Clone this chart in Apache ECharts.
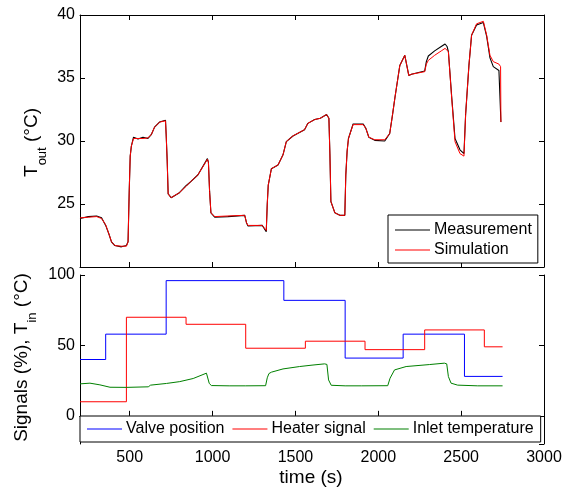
<!DOCTYPE html>
<html>
<head>
<meta charset="utf-8">
<script src="https://cdn.jsdelivr.net/npm/echarts@6/dist/echarts.min.js"></script>
<style>
  html, body { margin: 0; padding: 0; background: #fff; }
  #chart { width: 569px; height: 488px; }
</style>
</head>
<body>
<div id="chart"></div>
<script>
// Outlet temperature: time (s), simulated and measured values (°C)
const toutTime = [200, 250, 300, 330, 355, 375, 390, 410, 450, 480, 490, 497, 503, 510, 523, 550, 580, 610, 630, 650, 680, 716, 720, 726, 732, 750, 800, 840, 870, 911, 969, 975, 982, 990, 1013, 1093, 1194, 1205, 1214, 1300, 1324, 1330, 1336, 1355, 1395, 1425, 1445, 1485, 1555, 1575, 1616, 1650, 1688, 1702, 1708, 1714, 1738, 1768, 1798, 1804, 1812, 1820, 1848, 1909, 1925, 1943, 1979, 2039, 2069, 2085, 2100, 2130, 2160, 2172, 2184, 2200, 2280, 2290, 2302, 2340, 2380, 2403, 2415, 2423, 2443, 2463, 2493, 2517, 2527, 2547, 2563, 2593, 2634, 2654, 2674, 2694, 2728, 2738, 2740];
const toutSimulation = [23.9, 23.95, 24.0, 23.85, 23.35, 22.6, 22.0, 21.7, 21.65, 21.65, 22.0, 26.0, 28.8, 29.6, 30.2, 30.2, 30.2, 30.25, 30.5, 31.1, 31.5, 31.6, 30.5, 28.5, 25.8, 25.5, 25.9, 26.4, 26.8, 27.3, 28.55, 28.3, 26.0, 24.3, 24.0, 24.05, 24.1, 23.5, 23.3, 23.3, 22.9, 25.0, 26.5, 27.8, 28.1, 28.9, 29.95, 30.4, 30.9, 31.4, 31.7, 31.8, 32.1, 31.8, 29.0, 25.2, 24.3, 24.1, 24.1, 27.3, 29.2, 30.2, 31.3, 31.3, 31.0, 30.3, 30.1, 30.1, 30.6, 32.0, 33.4, 36.0, 36.8, 36.0, 35.2, 35.3, 35.5, 36.1, 36.4, 36.8, 37.15, 37.35, 37.25, 37.1, 33.4, 29.95, 29.0, 28.8, 32.1, 36.0, 38.4, 39.3, 39.5, 38.4, 36.8, 36.3, 36.1, 35.9, 31.5];
const toutMeasurement = [23.85, 24.0, 24.05, 23.9, 23.3, 22.6, 22.0, 21.7, 21.6, 21.7, 22.0, 26.0, 28.8, 29.6, 30.3, 30.15, 30.3, 30.2, 30.5, 31.1, 31.5, 31.65, 30.5, 28.5, 25.8, 25.5, 25.9, 26.45, 26.8, 27.3, 28.6, 28.3, 26.0, 24.3, 23.95, 24.0, 24.1, 23.5, 23.25, 23.3, 22.8, 25.0, 26.5, 27.8, 28.1, 28.9, 29.95, 30.4, 30.9, 31.4, 31.7, 31.8, 32.1, 31.8, 29.0, 25.2, 24.3, 24.1, 24.1, 27.3, 29.2, 30.2, 31.35, 31.35, 31.0, 30.3, 30.05, 30.0, 30.6, 32.0, 33.4, 36.0, 36.8, 36.0, 35.2, 35.3, 35.55, 36.3, 36.75, 37.15, 37.5, 37.7, 37.5, 37.1, 33.5, 30.2, 29.3, 29.0, 32.1, 36.0, 38.4, 39.2, 39.4, 38.3, 36.6, 35.9, 35.6, 35.5, 31.5];

// Input signals: change times (s) and held levels (%)
const valveTime = [200, 355, 720, 1430, 1800, 2150, 2520, 2750];
const valvePosition = [40, 58, 96, 82, 41, 58, 28, 28];
const heaterTime = [200, 480, 840, 1200, 1560, 1920, 2280, 2640, 2750];
const heaterSignal = [10, 70, 65, 48, 53, 47, 61, 49, 49];

// Inlet temperature (°C)
const inletTime = [200, 260, 320, 381, 481, 612, 626, 722, 802, 883, 963, 970, 980, 993, 1100, 1200, 1320, 1330, 1340, 1355, 1425, 1525, 1600, 1676, 1690, 1700, 1716, 1800, 1900, 2057, 2071, 2098, 2168, 2308, 2399, 2413, 2423, 2439, 2479, 2600, 2750];
const inletTemp = [22.7, 23.2, 22.0, 20.3, 20.2, 20.6, 21.8, 23.0, 24.3, 26.5, 30.3, 29.5, 23.0, 21.5, 21.3, 21.3, 21.4, 27.0, 30.0, 31.0, 33.3, 35.0, 36.0, 36.9, 36.5, 25.5, 21.7, 21.3, 21.3, 21.4, 26.7, 32.6, 35.0, 36.4, 37.4, 36.9, 27.9, 23.2, 21.8, 21.3, 21.3];

const FONT = 'Liberation Sans, Arial, Helvetica, sans-serif';
const pairs = (xs, ys) => xs.map((x, i) => [x, ys[i]]);
const plain = (v) => String(v);

const chart = echarts.init(document.getElementById('chart'), null, { renderer: 'canvas' });

const axisLine = { show: true, lineStyle: { color: '#000', width: 1 } };
const innerTick = { show: true, inside: true, length: 5, lineStyle: { color: '#000', width: 1 } };
const tickLabel = { color: '#000', fontSize: 16, fontFamily: FONT, formatter: plain };

function xAxisFor(grid, pos, labels) {
  return {
    type: 'value', gridIndex: grid, position: pos, min: 200, max: 3000,
    axisLine: axisLine, axisTick: innerTick, splitLine: { show: false },
    axisLabel: labels ? Object.assign({ margin: 6, showMinLabel: false }, tickLabel) : { show: false }
  };
}

const titleRich = {
  m: { fontSize: 19, fontFamily: FONT, fill: '#000', lineHeight: 26, verticalAlign: 'top' },
  s: { fontSize: 13, fontFamily: FONT, fill: '#000', lineHeight: 6, verticalAlign: 'bottom' }
};

chart.setOption({
  animation: false,
  backgroundColor: '#fff',
  grid: [
    { left: 80, top: 15, width: 464, height: 252 },
    { left: 80, top: 275, width: 464, height: 169 }
  ],
  xAxis: [
    xAxisFor(0, 'bottom', false),
    xAxisFor(0, 'top', false),
    xAxisFor(1, 'bottom', true),
    xAxisFor(1, 'top', false)
  ],
  yAxis: [
    { type: 'value', gridIndex: 0, position: 'left', min: 20, max: 40, interval: 5,
      axisLine: axisLine, axisTick: innerTick, splitLine: { show: false },
      axisLabel: Object.assign({ margin: 5, showMinLabel: false }, tickLabel) },
    { type: 'value', gridIndex: 0, position: 'right', min: 20, max: 40, interval: 5,
      axisLine: axisLine, axisTick: innerTick, splitLine: { show: false }, axisLabel: { show: false } },
    { type: 'value', gridIndex: 1, position: 'left', min: -20, max: 100, splitNumber: 2,
      axisLine: axisLine, axisTick: innerTick, splitLine: { show: false },
      axisLabel: Object.assign({ margin: 5, showMinLabel: false }, tickLabel) },
    { type: 'value', gridIndex: 1, position: 'right', min: -20, max: 100, splitNumber: 2,
      axisLine: axisLine, axisTick: innerTick, splitLine: { show: false }, axisLabel: { show: false } }
  ],
  legend: [
    {
      data: ['Measurement', 'Simulation'],
      orient: 'vertical', left: 388, top: 215,
      icon: 'rect', itemWidth: 35, itemHeight: 1, itemGap: 4,
      padding: [7, 6, 5, 7],
      backgroundColor: '#fff', borderColor: '#000', borderWidth: 1, borderRadius: 0,
      selectedMode: false,
      textStyle: { color: '#000', fontSize: 16, fontFamily: FONT, lineHeight: 16, padding: [0, 0, 0, -1] }
    },
    {
      data: ['Valve position', 'Heater signal', 'Inlet temperature'],
      orient: 'horizontal', left: 80, top: 416,
      icon: 'rect', itemWidth: 35, itemHeight: 1, itemGap: 8,
      padding: [5, 7, 5, 7],
      backgroundColor: '#fff', borderColor: '#000', borderWidth: 1, borderRadius: 0,
      selectedMode: false,
      textStyle: { color: '#000', fontSize: 16, fontFamily: FONT, lineHeight: 16, padding: [0, 0, 0, -1] }
    }
  ],
  graphic: [
    { type: 'text', x: 35.7, y: 142.5, rotation: Math.PI / 2, silent: true,
      style: { text: '{m|T}{s|out}{m| (°C)}', rich: titleRich, align: 'center', verticalAlign: 'middle' } },
    { type: 'text', x: 25.7, y: 357.5, rotation: Math.PI / 2, silent: true,
      style: { text: '{m|Signals (%), T}{s|in}{m| (°C)}', rich: titleRich, align: 'center', verticalAlign: 'middle' } },
    { type: 'text', x: 311, y: 478, silent: true,
      style: { text: 'time (s)', fontSize: 19, fontFamily: FONT, fill: '#000', align: 'center', verticalAlign: 'middle' } }
  ],
  series: [
    { name: 'Measurement', type: 'line', xAxisIndex: 0, yAxisIndex: 0,
      data: pairs(toutTime, toutMeasurement), showSymbol: false, symbol: 'none', silent: true,
      color: '#000', lineStyle: { color: '#000', width: 1.1 }, z: 2 },
    { name: 'Simulation', type: 'line', xAxisIndex: 0, yAxisIndex: 0,
      data: pairs(toutTime, toutSimulation), showSymbol: false, symbol: 'none', silent: true,
      color: '#ff0000', lineStyle: { color: '#ff0000', width: 1 }, z: 3 },
    { name: 'Valve position', type: 'line', step: 'end', xAxisIndex: 2, yAxisIndex: 2,
      data: pairs(valveTime, valvePosition), showSymbol: false, symbol: 'none', silent: true,
      color: '#0000ff', lineStyle: { color: '#0000ff', width: 1 } },
    { name: 'Heater signal', type: 'line', step: 'end', xAxisIndex: 2, yAxisIndex: 2,
      data: pairs(heaterTime, heaterSignal), showSymbol: false, symbol: 'none', silent: true,
      color: '#ff0000', lineStyle: { color: '#ff0000', width: 1 } },
    { name: 'Inlet temperature', type: 'line', xAxisIndex: 2, yAxisIndex: 2,
      data: pairs(inletTime, inletTemp), showSymbol: false, symbol: 'none', silent: true,
      color: '#008000', lineStyle: { color: '#008000', width: 1 } }
  ]
});
</script>
</body>
</html>
